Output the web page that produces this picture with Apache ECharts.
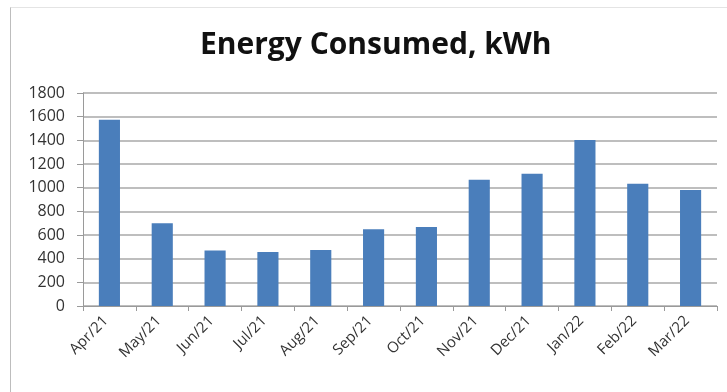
<!DOCTYPE html>
<html>
<head>
<meta charset="utf-8">
<script src="https://cdn.jsdelivr.net/npm/echarts@6/dist/echarts.min.js"></script>
<style>
  html, body { margin: 0; padding: 0; background: #fff; overflow: hidden; }
  #frame {
    position: absolute; left: 10px; top: 7px; width: 717px; height: 385px;
    border-left: 1px solid #bdbdbd;
    border-top: 1px solid #e4e4e4;
    box-sizing: border-box;
  }
  #chart { position: absolute; left: 0; top: 0; width: 727px; height: 392px; }
</style>
</head>
<body>
<div id="frame"></div>
<div id="chart"></div>
<script>
const months = ['Apr/21', 'May/21', 'Jun/21', 'Jul/21', 'Aug/21', 'Sep/21', 'Oct/21', 'Nov/21', 'Dec/21', 'Jan/22', 'Feb/22', 'Mar/22']
const energyKwh = [1575, 700, 468, 457, 474, 648, 668, 1066, 1117, 1402, 1034, 980]
const yTicks = { min: 0, max: 1800, step: 200 }

const chart = echarts.init(document.getElementById('chart'), null, { renderer: 'canvas' })

const axisFont = { fontFamily: 'Open Sans', fontSize: 15, color: '#333' }

chart.setOption({
  animation: false,
  title: {
    text: 'Energy Consumed, kWh',
    left: 195,
    top: 25,
    textStyle: { fontFamily: 'Open Sans', fontWeight: 'bold', fontSize: 30, color: '#111' }
  },
  grid: { left: 83, right: 10, top: 93, bottom: 86 },
  xAxis: {
    type: 'category',
    data: months,
    axisLine: { lineStyle: { color: '#9a9a9a', width: 1 } },
    axisTick: { show: true, length: 5, lineStyle: { color: '#9a9a9a' } },
    axisLabel: { ...axisFont, rotate: 45, margin: 9, interval: 0, padding: [0, 5, 0, 0] },
    splitLine: { show: false }
  },
  yAxis: {
    type: 'value',
    min: yTicks.min,
    max: yTicks.max,
    interval: yTicks.step,
    axisLine: { show: true, lineStyle: { color: '#9a9a9a', width: 1 } },
    axisTick: { show: true, length: 6, lineStyle: { color: '#9a9a9a' } },
    axisLabel: { ...axisFont, fontSize: 16, margin: 18, formatter: (v) => String(v) },
    splitLine: { lineStyle: { color: '#a8a8a8', width: 1.5 } }
  },
  series: [{
    type: 'bar',
    data: energyKwh,
    barWidth: '40%',
    itemStyle: { color: '#4a7ebb' }
  }]
})
</script>
</body>
</html>
